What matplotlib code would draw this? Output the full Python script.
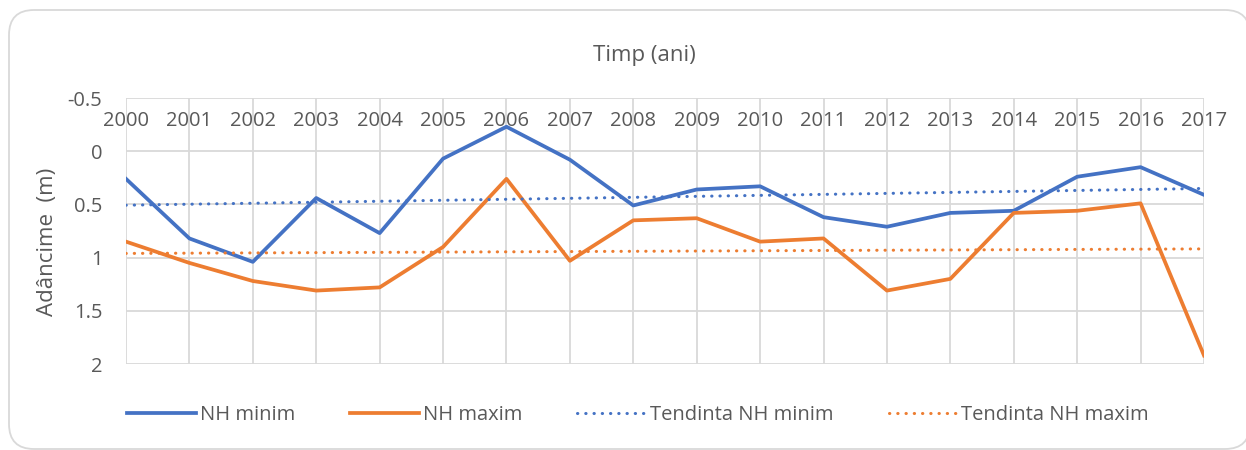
import numpy as np
import matplotlib.pyplot as plt
from matplotlib.patches import FancyBboxPatch
from matplotlib.lines import Line2D

# Adancimea nivelului hidrostatic (m), minim si maxim anual
ani = list(range(2000, 2018))
nh_minim = [0.26, 0.82, 1.04, 0.44, 0.77, 0.07, -0.23, 0.08, 0.51,
            0.36, 0.33, 0.62, 0.71, 0.58, 0.56, 0.24, 0.15, 0.41]
nh_maxim = [0.85, 1.05, 1.22, 1.31, 1.28, 0.90, 0.26, 1.03, 0.65,
            0.63, 0.85, 0.82, 1.31, 1.20, 0.58, 0.56, 0.49, 1.92]
y_ticks = [-0.5, 0, 0.5, 1, 1.5, 2]

plt.rcParams['font.family'] = ['Open Sans', 'DejaVu Sans']
text_color = '#595959'
grid_color = '#D9D9D9'
blue = '#4472C4'
orange = '#ED7D31'
fs = 14.5

x = np.arange(len(ani))


def trend(values):
    # linear trend, as Excel's trendline
    coef = np.polyfit(x, values, 1)
    return np.polyval(coef, x)


fig = plt.figure(figsize=(12.46, 4.5), dpi=100)

# rounded chart border
frame = FancyBboxPatch((0.09, 0.01), 12.41, 4.39,
                       boxstyle='round,pad=0,rounding_size=0.25',
                       transform=fig.dpi_scale_trans,
                       fc='white', ec=grid_color, lw=1.3, zorder=-10)
fig.add_artist(frame)

ax = fig.add_axes([126 / 1246, 1 - 364 / 450, 1078 / 1246, 266 / 450])
ax.set_facecolor('none')

ax.plot(x, nh_minim, color=blue, lw=2.7, zorder=3)
ax.plot(x, nh_maxim, color=orange, lw=2.7, zorder=3)
dots = (0, (0.1, 2.6))
ax.plot(x, trend(nh_minim), color=blue, lw=2.2, linestyle=dots,
        dash_capstyle='round', zorder=4)
ax.plot(x, trend(nh_maxim), color=orange, lw=2.2, linestyle=dots,
        dash_capstyle='round', zorder=4)

ax.set_xlim(0, len(ani) - 1)
ax.set_ylim(2, -0.5)
ax.set_yticks(y_ticks)
ax.set_yticklabels(['%g' % v for v in y_ticks])
ax.set_xticks(x)
ax.set_xticklabels([str(a) for a in ani])
ax.xaxis.set_ticks_position('top')
ax.tick_params(axis='x', length=0, pad=-24, labelsize=fs, colors=text_color)
ax.tick_params(axis='y', length=0, pad=17, labelsize=fs, colors=text_color)
ax.grid(True, color=grid_color, lw=1.3)
ax.set_axisbelow(True)
for s in ax.spines.values():
    s.set_visible(False)

fig.text(644 / 1246, 1 - 55 / 450, 'Timp (ani)', ha='center', va='center',
         fontsize=16, color=text_color)
fig.text(48 / 1246, 1 - 242 / 450, 'Adâncime  (m)', ha='center', va='center',
         rotation=90, fontsize=16, color=text_color)

handles = [
    Line2D([], [], color=blue, lw=2.7),
    Line2D([], [], color=orange, lw=2.7),
    Line2D([], [], color=blue, lw=2.2, linestyle=dots, dash_capstyle='round'),
    Line2D([], [], color=orange, lw=2.2, linestyle=dots, dash_capstyle='round'),
]
labels = ['NH minim', 'NH maxim', 'Tendinta NH minim', 'Tendinta NH maxim']
leg = fig.legend(handles, labels, loc='center',
                 bbox_to_anchor=(638 / 1246, 1 - 415 / 450), ncol=4,
                 frameon=False, fontsize=fs, handlelength=3.4,
                 handletextpad=0.2, columnspacing=2.75)
for t in leg.get_texts():
    t.set_color(text_color)

fig.savefig('out.png', dpi=100)
